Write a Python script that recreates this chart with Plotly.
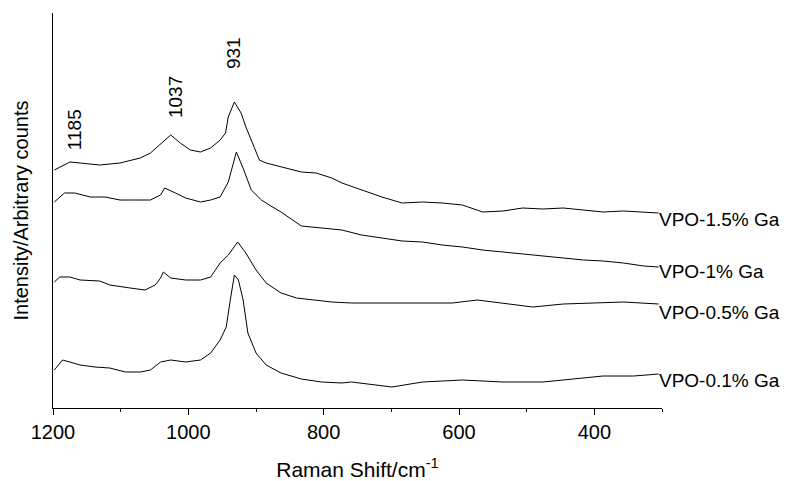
import numpy as np
import plotly.graph_objects as go

# ---- data ----
w_15 = [1198, 1175, 1160, 1131, 1101, 1071, 1056, 1034, 1026, 1012, 997, 982, 967, 953, 945, 941, 932, 922,
        915, 907, 895, 885, 863, 833, 811, 788, 773, 744, 714, 684, 654, 625, 595, 565, 535, 506, 476, 446,
        416, 387, 357, 327, 305]
i_15 = [238, 246, 245, 243, 245, 250, 255, 268, 273, 265, 258, 256, 260, 268, 275, 291, 306, 295,
        281, 268, 248, 245, 241, 236, 235, 230, 225, 218, 211, 205, 206, 205, 203, 196, 197, 200, 199, 200,
        198, 196, 197, 196, 195]

w_10 = [1198, 1183, 1168, 1145, 1123, 1101, 1078, 1056, 1041, 1035, 1019, 1004, 982, 967, 953, 941, 929,
        918, 907, 892, 878, 863, 833, 803, 773, 744, 714, 684, 654, 625, 595, 565, 535, 506, 476, 446, 416,
        387, 357, 327, 305]
i_10 = [206, 215, 215, 211, 211, 208, 208, 208, 213, 220, 215, 210, 206, 208, 211, 226, 256,
        238, 218, 208, 202, 196, 182, 180, 178, 173, 170, 167, 166, 163, 161, 158, 156, 154, 152, 150, 148,
        147, 145, 142, 141]

w_05 = [1198, 1190, 1175, 1160, 1131, 1116, 1086, 1064, 1049, 1041, 1037, 1026, 1004, 982, 967, 953, 941,
        927, 915, 900, 885, 863, 840, 818, 788, 759, 684, 610, 573, 535, 491, 446, 401, 357, 305]
i_05 = [126, 131, 131, 128, 127, 123, 120, 118, 123, 130, 136, 130, 128, 128, 131, 145, 153,
        166, 155, 138, 125, 115, 110, 108, 106, 105, 105, 105, 108, 105, 101, 104, 105, 106, 104]

w_01 = [1198, 1186, 1175, 1160, 1138, 1116, 1093, 1071, 1056, 1041, 1026, 1004, 982, 967, 953, 944, 938,
        932, 926, 919, 912, 900, 885, 863, 833, 803, 773, 759, 699, 654, 595, 535, 476, 431, 387, 342, 305]
i_01 = [38, 48, 46, 43, 41, 40, 36, 36, 38, 46, 48, 46, 48, 55, 68, 81, 108,
        133, 128, 108, 75, 55, 43, 35, 29, 26, 25, 26, 21, 26, 28, 26, 26, 29, 32, 32, 34]

series_names = ["VPO-1.5% Ga", "VPO-1% Ga", "VPO-0.5% Ga", "VPO-0.1% Ga"]
series_x = [w_15, w_10, w_05, w_01]
series_y = [i_15, i_10, i_05, i_01]

peak_labels = ["1185", "1037", "931"]

x_ticks = [1200, 1000, 800, 600, 400]

# ---- figure ----
FONT = "Liberation Sans, Arial, Helvetica, sans-serif"
fig = go.Figure()
for name, xs, ys in zip(series_names, series_x, series_y):
    fig.add_trace(go.Scatter(x=xs, y=ys, mode="lines", name=name,
                             line=dict(color="black", width=1), showlegend=False))

annotations = []
# series labels at right end of each curve
label_yshift = [-6, -4, -8, -6]
for name, xs, ys, sh in zip(series_names, series_x, series_y, label_yshift):
    annotations.append(dict(x=300, y=ys[-1], xref="x", yref="y", text=name, showarrow=False,
                            xanchor="left", yanchor="middle", xshift=-5, yshift=sh,
                            font=dict(family=FONT, size=19, color="black")))

# peak labels above top spectrum
peak_xshift = [12, 12, -2]
peak_gap = [13, 22, 32]
ref_x = np.array(w_15[::-1], dtype=float)
ref_y = np.array(i_15[::-1], dtype=float)
for lbl, xs_, gap in zip(peak_labels, peak_xshift, peak_gap):
    v = float(lbl)
    yv = float(np.interp(v, ref_x, ref_y))
    annotations.append(dict(x=v, y=yv, xref="x", yref="y", text=lbl, showarrow=False,
                            textangle=-90, xanchor="center", yanchor="bottom",
                            xshift=xs_, yshift=gap,
                            font=dict(family=FONT, size=19, color="black")))

# page body has an 8px default margin, so the figure is sized to fit the window
fig.update_layout(
    width=789, height=473,
    margin=dict(l=45, r=135, t=5, b=73, autoexpand=False),
    paper_bgcolor="white", plot_bgcolor="white",
    font=dict(family=FONT, size=20, color="black"),
    annotations=annotations,
    xaxis=dict(
        range=[1200, 300], autorange=False, automargin=False,
        tickmode="array", tickvals=x_ticks, ticktext=[str(t) for t in x_ticks],
        ticks="outside", ticklen=6, tickwidth=1, tickcolor="black",
        minor=dict(tickmode="linear", tick0=300, dtick=200, ticks="outside", ticklen=3,
                   tickwidth=1, tickcolor="black"),
        showline=True, linecolor="black", linewidth=1, mirror=False,
        showgrid=False, zeroline=False,
        tickfont=dict(family=FONT, size=20, color="black"),
        title=dict(text="Raman Shift/cm<sup>-1</sup>", standoff=30,
                   font=dict(family=FONT, size=21, color="black")),
    ),
    yaxis=dict(
        range=[0, 395], autorange=False, automargin=False,
        showticklabels=False, ticks="",
        showline=True, linecolor="black", linewidth=1, mirror=False,
        showgrid=False, zeroline=False,
        title=dict(text="Intensity/Arbitrary counts", standoff=18,
                   font=dict(family=FONT, size=20, color="black")),
    ),
)

fig.write_html("out.html")
